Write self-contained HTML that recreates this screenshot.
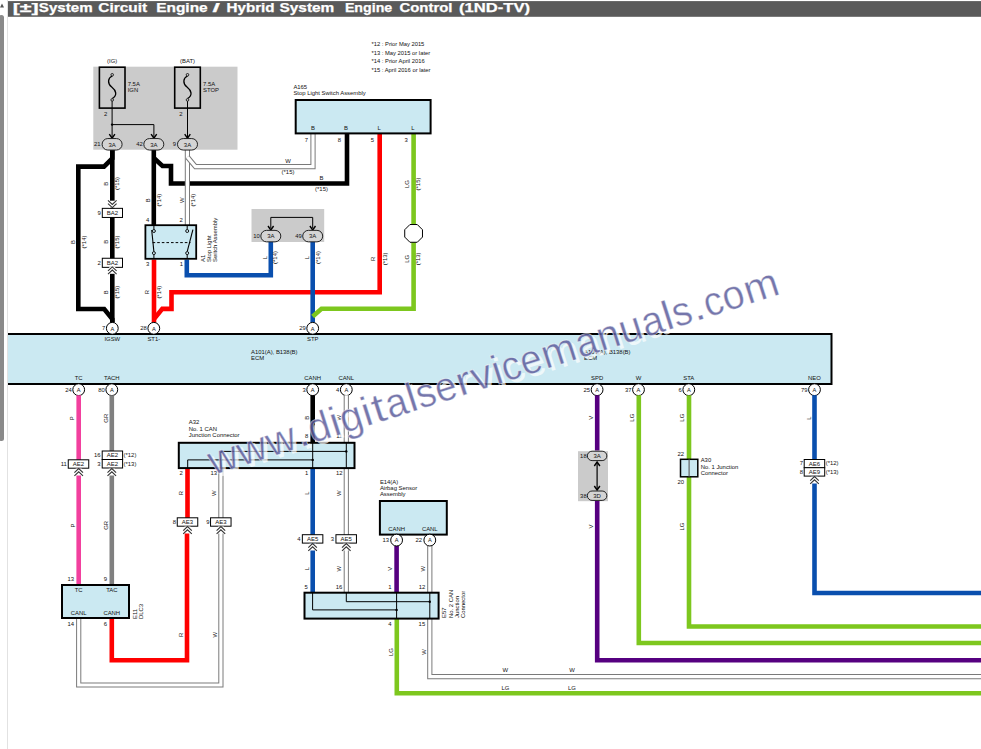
<!DOCTYPE html><html><head><meta charset="utf-8"><style>html,body{margin:0;padding:0;background:#fff;overflow:hidden}svg{display:block;font-family:"Liberation Sans",sans-serif}</style></head><body>
<svg width="981" height="749" viewBox="0 0 981 749">
<rect width="981" height="749" fill="#fff"/>
<rect x="7" y="0" width="1" height="749" fill="#e2e2e2"/>
<rect x="-1" y="15" width="5" height="426" rx="2.5" fill="#8a8a8a"/>
<polygon points="0,7.5 2,3.5 4,7.5" fill="#555"/>
<rect x="8" y="1.1" width="973" height="15.7" fill="#5a5a5a"/>
<g font-size="12.6" font-weight="bold" fill="#fff" stroke="#fff" stroke-width="0.25">
<text x="12.7" y="12.3" textLength="25.999999999999996" lengthAdjust="spacingAndGlyphs">[±]</text>
<text x="38.800000000000004" y="12.3" textLength="53.8" lengthAdjust="spacingAndGlyphs">System</text>
<text x="98.3" y="12.3" textLength="48.900000000000006" lengthAdjust="spacingAndGlyphs">Circuit</text>
<text x="156.2" y="12.3" textLength="51.500000000000014" lengthAdjust="spacingAndGlyphs">Engine</text>
<text x="212.6" y="12.3" textLength="7.3" lengthAdjust="spacingAndGlyphs">/</text>
<text x="226.5" y="12.3" textLength="48.09999999999998" lengthAdjust="spacingAndGlyphs">Hybrid</text>
<text x="279.5" y="12.3" textLength="54.8" lengthAdjust="spacingAndGlyphs">System</text>
<text x="344.90000000000003" y="12.3" textLength="47.3" lengthAdjust="spacingAndGlyphs">Engine</text>
<text x="399.5" y="12.3" textLength="53.00000000000004" lengthAdjust="spacingAndGlyphs">Control</text>
<text x="459.1" y="12.3" textLength="71.00000000000004" lengthAdjust="spacingAndGlyphs">(1ND-TV)</text>
</g>
<rect x="93.3" y="66.7" width="144.2" height="83" fill="#cbcbcb"/>
<rect x="251.5" y="209" width="72.7" height="33" fill="#cbcbcb"/>
<rect x="578" y="451.2" width="30" height="50" fill="#cbcbcb"/>
<text x="371.5" y="44.0" font-size="5.8" text-anchor="start" dominant-baseline="central" fill="#111" font-weight="normal">*12 : Prior May 2015</text>
<text x="371.5" y="52.7" font-size="5.8" text-anchor="start" dominant-baseline="central" fill="#111" font-weight="normal">*13 : May 2015 or later</text>
<text x="371.5" y="61.4" font-size="5.8" text-anchor="start" dominant-baseline="central" fill="#111" font-weight="normal">*14 : Prior April 2016</text>
<text x="371.5" y="70.1" font-size="5.8" text-anchor="start" dominant-baseline="central" fill="#111" font-weight="normal">*15 : April 2016 or later</text>
<rect x="99.4" y="67.2" width="25.6" height="40.9" fill="#cbcbcb" stroke="#000" stroke-width="1.6"/>
<path d="M112.2,76 C107.7,78 107.2,83.5 111.7,87 S117.7,95.5 112.2,98.6" fill="none" stroke="#000" stroke-width="1.3"/>
<circle cx="112.2" cy="74.8" r="1.3" fill="#cbcbcb" stroke="#000" stroke-width="0.8"/>
<circle cx="112.2" cy="99.9" r="1.3" fill="#cbcbcb" stroke="#000" stroke-width="0.8"/>
<text x="112.2" y="61.1" font-size="5.9" text-anchor="middle" dominant-baseline="central" fill="#111" font-weight="normal">(IG)</text>
<text x="127.7" y="84.2" font-size="5.9" text-anchor="start" dominant-baseline="central" fill="#111" font-weight="normal">7.5A</text>
<text x="127.7" y="90.4" font-size="5.9" text-anchor="start" dominant-baseline="central" fill="#111" font-weight="normal">IGN</text>
<text x="105.7" y="113.8" font-size="5.9" text-anchor="middle" dominant-baseline="central" fill="#111" font-weight="normal">2</text>
<rect x="174.7" y="67.2" width="25.6" height="40.9" fill="#cbcbcb" stroke="#000" stroke-width="1.6"/>
<path d="M187.5,76 C183.0,78 182.5,83.5 187.0,87 S193.0,95.5 187.5,98.6" fill="none" stroke="#000" stroke-width="1.3"/>
<circle cx="187.5" cy="74.8" r="1.3" fill="#cbcbcb" stroke="#000" stroke-width="0.8"/>
<circle cx="187.5" cy="99.9" r="1.3" fill="#cbcbcb" stroke="#000" stroke-width="0.8"/>
<text x="187.5" y="61.1" font-size="5.9" text-anchor="middle" dominant-baseline="central" fill="#111" font-weight="normal">(BAT)</text>
<text x="203.0" y="84.2" font-size="5.9" text-anchor="start" dominant-baseline="central" fill="#111" font-weight="normal">7.5A</text>
<text x="203.0" y="90.4" font-size="5.9" text-anchor="start" dominant-baseline="central" fill="#111" font-weight="normal">STOP</text>
<text x="181.0" y="113.8" font-size="5.9" text-anchor="middle" dominant-baseline="central" fill="#111" font-weight="normal">2</text>
<polyline points="112.1,101.2 112.1,137.5" fill="none" stroke="#000" stroke-width="1"/>
<polyline points="112.1,124.6 153.9,124.6 153.9,137.5" fill="none" stroke="#000" stroke-width="1"/>
<circle cx="112.1" cy="124.6" r="1.2" fill="#000"/>
<polyline points="109.3,134.2 112.1,138.2 114.89999999999999,134.2" fill="none" stroke="#000" stroke-width="1.4"/>
<polyline points="151.1,134.2 153.9,138.2 156.70000000000002,134.2" fill="none" stroke="#000" stroke-width="1.4"/>
<polyline points="187.5,101.2 187.5,137.5" fill="none" stroke="#000" stroke-width="1"/>
<polyline points="184.7,134.2 187.5,138.2 190.3,134.2" fill="none" stroke="#000" stroke-width="1.4"/>
<polyline points="112.3,150 112.3,158.5 104,166.6 78.3,166.6 78.3,309 104.2,309 112.3,319 112.3,322.5" fill="none" stroke="#000" stroke-width="4.6" stroke-linejoin="miter" stroke-linecap="butt"/>
<polyline points="153.8,150 153.8,225" fill="none" stroke="#000" stroke-width="4.6" stroke-linejoin="miter" stroke-linecap="butt"/>
<polyline points="153.8,158 162.5,166 171,166 171,183.5 347,183.5 347,133.5" fill="none" stroke="#000" stroke-width="4.6" stroke-linejoin="miter" stroke-linecap="butt"/>
<polyline points="187.4,150 187.4,225" fill="none" stroke="#7a7a7a" stroke-width="5.2" stroke-linejoin="miter"/>
<polyline points="187.4,150 187.4,225" fill="none" stroke="#fff" stroke-width="3.2" stroke-linejoin="miter"/>
<polyline points="187.4,157 195.5,166.7 313,166.7 313,133.5" fill="none" stroke="#7a7a7a" stroke-width="5.2" stroke-linejoin="miter"/>
<polyline points="187.4,157 195.5,166.7 313,166.7 313,133.5" fill="none" stroke="#fff" stroke-width="3.2" stroke-linejoin="miter"/>
<polyline points="154,259.5 154,322.5" fill="none" stroke="#ff0000" stroke-width="4.6" stroke-linejoin="miter" stroke-linecap="butt"/>
<polyline points="154,319 162.3,308.9 171.5,308.9 171.5,292.3 379.7,292.3 379.7,133.5" fill="none" stroke="#ff0000" stroke-width="4.6" stroke-linejoin="miter" stroke-linecap="butt"/>
<polyline points="186.8,259.5 186.8,275.3 270.8,275.3 270.8,241.5" fill="none" stroke="#0a4fae" stroke-width="4.6" stroke-linejoin="miter" stroke-linecap="butt"/>
<polyline points="312.7,241.5 312.7,322.5" fill="none" stroke="#0a4fae" stroke-width="4.6" stroke-linejoin="miter" stroke-linecap="butt"/>
<polyline points="413.6,133.5 413.6,308.8 321.5,308.8 312.7,316.5" fill="none" stroke="#7dc71e" stroke-width="4.6" stroke-linejoin="miter" stroke-linecap="butt"/>
<polyline points="112.3,150 112.3,322.5" fill="none" stroke="#000" stroke-width="4.6" stroke-linejoin="miter" stroke-linecap="butt"/>
<rect x="102.30000000000001" y="208.35" width="20.2" height="9.1" fill="#fff" stroke="#000" stroke-width="1"/>
<text x="112.4" y="213.1" font-size="6.0" text-anchor="middle" dominant-baseline="central" fill="#111" font-weight="normal">BA2</text>
<rect x="109.3" y="200.7" width="6" height="7" fill="#fff"/>
<polyline points="108.0,200.4 112.3,204.4 116.6,200.4" fill="none" stroke="#333" stroke-width="1.1"/>
<polyline points="108.0,203.6 112.3,207.6 116.6,203.6" fill="none" stroke="#333" stroke-width="1.1"/>
<rect x="102.30000000000001" y="258.25" width="20.2" height="9.1" fill="#fff" stroke="#000" stroke-width="1"/>
<text x="112.4" y="263.0" font-size="6.0" text-anchor="middle" dominant-baseline="central" fill="#111" font-weight="normal">BA2</text>
<rect x="109.3" y="266.8" width="6" height="7" fill="#fff"/>
<polyline points="108.0,270.9 112.3,266.9 116.6,270.9" fill="none" stroke="#333" stroke-width="1.1"/>
<polyline points="108.0,274.1 112.3,270.1 116.6,274.1" fill="none" stroke="#333" stroke-width="1.1"/>
<text x="100.8" y="212.9" font-size="5.9" text-anchor="end" dominant-baseline="central" fill="#111" font-weight="normal">9</text>
<text x="100.8" y="262.8" font-size="5.9" text-anchor="end" dominant-baseline="central" fill="#111" font-weight="normal">2</text>
<polygon points="422.4692435121084,237.07376095070487 417.2737609507049,242.26924351210835 409.92623904929513,242.26924351210835 404.73075648789165,237.07376095070487 404.73075648789165,229.72623904929515 409.9262390492952,224.53075648789167 417.2737609507049,224.53075648789167 422.4692435121084,229.72623904929515" fill="#fff" stroke="#000" stroke-width="1"/>
<rect x="145.4" y="225.2" width="50.79999999999998" height="33.60000000000002" fill="#cbe9f2" stroke="#000" stroke-width="1.8"/>
<polyline points="153.9,225.2 153.9,229.5" fill="none" stroke="#000" stroke-width="1"/>
<polyline points="153.9,254.6 153.9,258.8" fill="none" stroke="#000" stroke-width="1"/>
<polyline points="187.2,225.2 187.2,229.5" fill="none" stroke="#000" stroke-width="1"/>
<polyline points="187.2,254.6 187.2,258.8" fill="none" stroke="#000" stroke-width="1"/>
<polyline points="151.7,230 153.9,251.6" fill="none" stroke="#000" stroke-width="1.1"/>
<polyline points="192.9,229.7 187.2,251.6" fill="none" stroke="#000" stroke-width="1.1"/>
<circle cx="153.9" cy="231" r="1.5" fill="#cbe9f2" stroke="#000" stroke-width="0.9"/>
<circle cx="153.9" cy="253.1" r="1.5" fill="#cbe9f2" stroke="#000" stroke-width="0.9"/>
<circle cx="187.2" cy="231" r="1.5" fill="#cbe9f2" stroke="#000" stroke-width="0.9"/>
<circle cx="187.2" cy="253.1" r="1.5" fill="#cbe9f2" stroke="#000" stroke-width="0.9"/>
<line x1="152.6" y1="242.6" x2="190.5" y2="242.6" stroke="#000" stroke-width="1" stroke-dasharray="2.6,2"/>
<text x="147.6" y="220.2" font-size="5.9" text-anchor="middle" dominant-baseline="central" fill="#111" font-weight="normal">4</text>
<text x="181.2" y="220.2" font-size="5.9" text-anchor="middle" dominant-baseline="central" fill="#111" font-weight="normal">2</text>
<text x="147.6" y="264" font-size="5.9" text-anchor="middle" dominant-baseline="central" fill="#111" font-weight="normal">3</text>
<text x="181.4" y="264" font-size="5.9" text-anchor="middle" dominant-baseline="central" fill="#111" font-weight="normal">1</text>
<text x="202.8" y="262" font-size="5.9" text-anchor="start" dominant-baseline="central" fill="#111" font-weight="normal" transform="rotate(-90 202.8 262)">A1</text>
<text x="208.9" y="262" font-size="5.9" text-anchor="start" dominant-baseline="central" fill="#111" font-weight="normal" transform="rotate(-90 208.9 262)">Stop Light</text>
<text x="215" y="262" font-size="5.9" text-anchor="start" dominant-baseline="central" fill="#111" font-weight="normal" transform="rotate(-90 215 262)">Switch Assembly</text>
<rect x="102.1" y="138.55" width="20" height="11.5" rx="5.75" ry="5.75" fill="#d4d4d4" stroke="#222" stroke-width="1"/>
<text x="112.1" y="144.5" font-size="6.0" text-anchor="middle" dominant-baseline="central" fill="#111" font-weight="normal">3A</text>
<rect x="143.8" y="138.55" width="20" height="11.5" rx="5.75" ry="5.75" fill="#d4d4d4" stroke="#222" stroke-width="1"/>
<text x="153.8" y="144.5" font-size="6.0" text-anchor="middle" dominant-baseline="central" fill="#111" font-weight="normal">3A</text>
<rect x="177.5" y="138.55" width="20" height="11.5" rx="5.75" ry="5.75" fill="#d4d4d4" stroke="#222" stroke-width="1"/>
<text x="187.5" y="144.5" font-size="6.0" text-anchor="middle" dominant-baseline="central" fill="#111" font-weight="normal">3A</text>
<text x="97.3" y="144.3" font-size="5.9" text-anchor="middle" dominant-baseline="central" fill="#111" font-weight="normal">21</text>
<text x="139.5" y="144.3" font-size="5.9" text-anchor="middle" dominant-baseline="central" fill="#111" font-weight="normal">42</text>
<text x="174.5" y="144.3" font-size="5.9" text-anchor="middle" dominant-baseline="central" fill="#111" font-weight="normal">9</text>
<polyline points="270.8,228 270.8,217.4 312.7,217.4 312.7,228" fill="none" stroke="#000" stroke-width="1"/>
<polyline points="268.0,226 270.8,230 273.6,226" fill="none" stroke="#000" stroke-width="1.4"/>
<polyline points="309.9,226 312.7,230 315.5,226" fill="none" stroke="#000" stroke-width="1.4"/>
<rect x="260.8" y="230.35" width="20" height="11.5" rx="5.75" ry="5.75" fill="#d4d4d4" stroke="#222" stroke-width="1"/>
<text x="270.8" y="236.29999999999998" font-size="6.0" text-anchor="middle" dominant-baseline="central" fill="#111" font-weight="normal">3A</text>
<rect x="302.7" y="230.35" width="20" height="11.5" rx="5.75" ry="5.75" fill="#d4d4d4" stroke="#222" stroke-width="1"/>
<text x="312.7" y="236.29999999999998" font-size="6.0" text-anchor="middle" dominant-baseline="central" fill="#111" font-weight="normal">3A</text>
<text x="256.5" y="236.1" font-size="5.9" text-anchor="middle" dominant-baseline="central" fill="#111" font-weight="normal">10</text>
<text x="298.5" y="236.1" font-size="5.9" text-anchor="middle" dominant-baseline="central" fill="#111" font-weight="normal">49</text>
<text x="293.4" y="87" font-size="5.9" text-anchor="start" dominant-baseline="central" fill="#111" font-weight="normal">A165</text>
<text x="293.4" y="93.3" font-size="5.9" text-anchor="start" dominant-baseline="central" fill="#111" font-weight="normal">Stop Light Switch Assembly</text>
<rect x="295.7" y="100" width="134.90000000000003" height="33.400000000000006" fill="#cbe9f2" stroke="#000" stroke-width="2"/>
<text x="313" y="128.3" font-size="5.9" text-anchor="middle" dominant-baseline="central" fill="#111" font-weight="normal">B</text>
<text x="306.3" y="139.5" font-size="5.9" text-anchor="middle" dominant-baseline="central" fill="#111" font-weight="normal">7</text>
<text x="346" y="128.3" font-size="5.9" text-anchor="middle" dominant-baseline="central" fill="#111" font-weight="normal">B</text>
<text x="339.3" y="139.5" font-size="5.9" text-anchor="middle" dominant-baseline="central" fill="#111" font-weight="normal">8</text>
<text x="379.2" y="128.3" font-size="5.9" text-anchor="middle" dominant-baseline="central" fill="#111" font-weight="normal">L</text>
<text x="372.5" y="139.5" font-size="5.9" text-anchor="middle" dominant-baseline="central" fill="#111" font-weight="normal">5</text>
<text x="412.9" y="128.3" font-size="5.9" text-anchor="middle" dominant-baseline="central" fill="#111" font-weight="normal">L</text>
<text x="406.2" y="139.5" font-size="5.9" text-anchor="middle" dominant-baseline="central" fill="#111" font-weight="normal">3</text>
<text x="288" y="160.8" font-size="5.9" text-anchor="middle" dominant-baseline="central" fill="#111" font-weight="normal">W</text>
<text x="288" y="172" font-size="5.9" text-anchor="middle" dominant-baseline="central" fill="#111" font-weight="normal">(*15)</text>
<text x="321.5" y="178.2" font-size="5.9" text-anchor="middle" dominant-baseline="central" fill="#111" font-weight="normal">B</text>
<text x="321.5" y="189.2" font-size="5.9" text-anchor="middle" dominant-baseline="central" fill="#111" font-weight="normal">(*15)</text>
<text x="105.8" y="183.8" font-size="5.9" text-anchor="middle" dominant-baseline="central" fill="#111" font-weight="normal" transform="rotate(-90 105.8 183.8)">B</text>
<text x="148" y="200.2" font-size="5.9" text-anchor="middle" dominant-baseline="central" fill="#111" font-weight="normal" transform="rotate(-90 148 200.2)">B</text>
<text x="182.2" y="200.2" font-size="5.9" text-anchor="middle" dominant-baseline="central" fill="#111" font-weight="normal" transform="rotate(-90 182.2 200.2)">W</text>
<text x="73" y="242" font-size="5.9" text-anchor="middle" dominant-baseline="central" fill="#111" font-weight="normal" transform="rotate(-90 73 242)">B</text>
<text x="105.8" y="241.8" font-size="5.9" text-anchor="middle" dominant-baseline="central" fill="#111" font-weight="normal" transform="rotate(-90 105.8 241.8)">B</text>
<text x="105.8" y="292.2" font-size="5.9" text-anchor="middle" dominant-baseline="central" fill="#111" font-weight="normal" transform="rotate(-90 105.8 292.2)">B</text>
<text x="147.4" y="292.2" font-size="5.9" text-anchor="middle" dominant-baseline="central" fill="#111" font-weight="normal" transform="rotate(-90 147.4 292.2)">R</text>
<text x="265" y="257.5" font-size="5.9" text-anchor="middle" dominant-baseline="central" fill="#111" font-weight="normal" transform="rotate(-90 265 257.5)">L</text>
<text x="306.8" y="257.5" font-size="5.9" text-anchor="middle" dominant-baseline="central" fill="#111" font-weight="normal" transform="rotate(-90 306.8 257.5)">L</text>
<text x="373.5" y="258.8" font-size="5.9" text-anchor="middle" dominant-baseline="central" fill="#111" font-weight="normal" transform="rotate(-90 373.5 258.8)">R</text>
<text x="407" y="184" font-size="5.9" text-anchor="middle" dominant-baseline="central" fill="#111" font-weight="normal" transform="rotate(-90 407 184)">LG</text>
<text x="407" y="258.8" font-size="5.9" text-anchor="middle" dominant-baseline="central" fill="#111" font-weight="normal" transform="rotate(-90 407 258.8)">LG</text>
<text x="117.2" y="183.5" font-size="5.9" text-anchor="middle" dominant-baseline="central" fill="#111" font-weight="normal" transform="rotate(-90 117.2 183.5)">(*15)</text>
<text x="159.2" y="200.2" font-size="5.9" text-anchor="middle" dominant-baseline="central" fill="#111" font-weight="normal" transform="rotate(-90 159.2 200.2)">(*14)</text>
<text x="192.9" y="200.2" font-size="5.9" text-anchor="middle" dominant-baseline="central" fill="#111" font-weight="normal" transform="rotate(-90 192.9 200.2)">(*14)</text>
<text x="84" y="242" font-size="5.9" text-anchor="middle" dominant-baseline="central" fill="#111" font-weight="normal" transform="rotate(-90 84 242)">(*14)</text>
<text x="117.2" y="242" font-size="5.9" text-anchor="middle" dominant-baseline="central" fill="#111" font-weight="normal" transform="rotate(-90 117.2 242)">(*15)</text>
<text x="117.3" y="292.2" font-size="5.9" text-anchor="middle" dominant-baseline="central" fill="#111" font-weight="normal" transform="rotate(-90 117.3 292.2)">(*15)</text>
<text x="159.3" y="292.2" font-size="5.9" text-anchor="middle" dominant-baseline="central" fill="#111" font-weight="normal" transform="rotate(-90 159.3 292.2)">(*14)</text>
<text x="274.8" y="257.5" font-size="5.9" text-anchor="middle" dominant-baseline="central" fill="#111" font-weight="normal" transform="rotate(-90 274.8 257.5)">(*14)</text>
<text x="317.5" y="257.5" font-size="5.9" text-anchor="middle" dominant-baseline="central" fill="#111" font-weight="normal" transform="rotate(-90 317.5 257.5)">(*14)</text>
<text x="385.5" y="258.8" font-size="5.9" text-anchor="middle" dominant-baseline="central" fill="#111" font-weight="normal" transform="rotate(-90 385.5 258.8)">(*13)</text>
<text x="417.6" y="184" font-size="5.9" text-anchor="middle" dominant-baseline="central" fill="#111" font-weight="normal" transform="rotate(-90 417.6 184)">(*15)</text>
<text x="417.6" y="258.8" font-size="5.9" text-anchor="middle" dominant-baseline="central" fill="#111" font-weight="normal" transform="rotate(-90 417.6 258.8)">(*13)</text>
<rect x="8" y="334" width="823.5" height="50" fill="#cbe9f2"/>
<polyline points="8,334 831.5,334 831.5,384 8,384" fill="none" stroke="#000" stroke-width="2"/>
<text x="251" y="351.5" font-size="5.9" text-anchor="start" dominant-baseline="central" fill="#111" font-weight="normal">A101(A), B138(B)</text>
<text x="251" y="357.8" font-size="5.9" text-anchor="start" dominant-baseline="central" fill="#111" font-weight="normal">ECM</text>
<text x="584" y="351.5" font-size="5.9" text-anchor="start" dominant-baseline="central" fill="#111" font-weight="normal">A101(A), B138(B)</text>
<text x="584" y="357.8" font-size="5.9" text-anchor="start" dominant-baseline="central" fill="#111" font-weight="normal">ECM</text>
<circle cx="112.3" cy="328.3" r="5.9" fill="#fff" stroke="#000" stroke-width="1"/>
<text x="112.3" y="328.5" font-size="5.7" text-anchor="middle" dominant-baseline="central" fill="#111" font-weight="normal">A</text>
<text x="105.3" y="328.3" font-size="5.9" text-anchor="end" dominant-baseline="central" fill="#111" font-weight="normal">7</text>
<text x="112.3" y="338.6" font-size="5.9" text-anchor="middle" dominant-baseline="central" fill="#111" font-weight="normal">IGSW</text>
<circle cx="153.8" cy="328.3" r="5.9" fill="#fff" stroke="#000" stroke-width="1"/>
<text x="153.8" y="328.5" font-size="5.7" text-anchor="middle" dominant-baseline="central" fill="#111" font-weight="normal">A</text>
<text x="146.8" y="328.3" font-size="5.9" text-anchor="end" dominant-baseline="central" fill="#111" font-weight="normal">28</text>
<text x="153.8" y="338.6" font-size="5.9" text-anchor="middle" dominant-baseline="central" fill="#111" font-weight="normal">ST1-</text>
<circle cx="312.7" cy="328.3" r="5.9" fill="#fff" stroke="#000" stroke-width="1"/>
<text x="312.7" y="328.5" font-size="5.7" text-anchor="middle" dominant-baseline="central" fill="#111" font-weight="normal">A</text>
<text x="305.7" y="328.3" font-size="5.9" text-anchor="end" dominant-baseline="central" fill="#111" font-weight="normal">29</text>
<text x="312.7" y="338.6" font-size="5.9" text-anchor="middle" dominant-baseline="central" fill="#111" font-weight="normal">STP</text>
<circle cx="78.7" cy="389.7" r="5.9" fill="#fff" stroke="#000" stroke-width="1"/>
<text x="78.7" y="389.9" font-size="5.7" text-anchor="middle" dominant-baseline="central" fill="#111" font-weight="normal">A</text>
<text x="71.7" y="389.7" font-size="5.9" text-anchor="end" dominant-baseline="central" fill="#111" font-weight="normal">24</text>
<text x="78.7" y="377.9" font-size="5.9" text-anchor="middle" dominant-baseline="central" fill="#111" font-weight="normal">TC</text>
<circle cx="111.8" cy="389.7" r="5.9" fill="#fff" stroke="#000" stroke-width="1"/>
<text x="111.8" y="389.9" font-size="5.7" text-anchor="middle" dominant-baseline="central" fill="#111" font-weight="normal">A</text>
<text x="104.8" y="389.7" font-size="5.9" text-anchor="end" dominant-baseline="central" fill="#111" font-weight="normal">80</text>
<text x="111.8" y="377.9" font-size="5.9" text-anchor="middle" dominant-baseline="central" fill="#111" font-weight="normal">TACH</text>
<circle cx="312.7" cy="389.7" r="5.9" fill="#fff" stroke="#000" stroke-width="1"/>
<text x="312.7" y="389.9" font-size="5.7" text-anchor="middle" dominant-baseline="central" fill="#111" font-weight="normal">A</text>
<text x="305.7" y="389.7" font-size="5.9" text-anchor="end" dominant-baseline="central" fill="#111" font-weight="normal">3</text>
<text x="312.7" y="377.9" font-size="5.9" text-anchor="middle" dominant-baseline="central" fill="#111" font-weight="normal">CANH</text>
<circle cx="346.3" cy="389.7" r="5.9" fill="#fff" stroke="#000" stroke-width="1"/>
<text x="346.3" y="389.9" font-size="5.7" text-anchor="middle" dominant-baseline="central" fill="#111" font-weight="normal">A</text>
<text x="339.3" y="389.7" font-size="5.9" text-anchor="end" dominant-baseline="central" fill="#111" font-weight="normal">4</text>
<text x="346.3" y="377.9" font-size="5.9" text-anchor="middle" dominant-baseline="central" fill="#111" font-weight="normal">CANL</text>
<circle cx="597.1" cy="389.7" r="5.9" fill="#fff" stroke="#000" stroke-width="1"/>
<text x="597.1" y="389.9" font-size="5.7" text-anchor="middle" dominant-baseline="central" fill="#111" font-weight="normal">A</text>
<text x="590.1" y="389.7" font-size="5.9" text-anchor="end" dominant-baseline="central" fill="#111" font-weight="normal">25</text>
<text x="597.1" y="377.9" font-size="5.9" text-anchor="middle" dominant-baseline="central" fill="#111" font-weight="normal">SPD</text>
<circle cx="638.5" cy="389.7" r="5.9" fill="#fff" stroke="#000" stroke-width="1"/>
<text x="638.5" y="389.9" font-size="5.7" text-anchor="middle" dominant-baseline="central" fill="#111" font-weight="normal">A</text>
<text x="631.5" y="389.7" font-size="5.9" text-anchor="end" dominant-baseline="central" fill="#111" font-weight="normal">37</text>
<text x="638.5" y="377.9" font-size="5.9" text-anchor="middle" dominant-baseline="central" fill="#111" font-weight="normal">W</text>
<circle cx="688.8" cy="389.7" r="5.9" fill="#fff" stroke="#000" stroke-width="1"/>
<text x="688.8" y="389.9" font-size="5.7" text-anchor="middle" dominant-baseline="central" fill="#111" font-weight="normal">A</text>
<text x="681.8" y="389.7" font-size="5.9" text-anchor="end" dominant-baseline="central" fill="#111" font-weight="normal">6</text>
<text x="688.8" y="377.9" font-size="5.9" text-anchor="middle" dominant-baseline="central" fill="#111" font-weight="normal">STA</text>
<circle cx="814.5" cy="389.7" r="5.9" fill="#fff" stroke="#000" stroke-width="1"/>
<text x="814.5" y="389.9" font-size="5.7" text-anchor="middle" dominant-baseline="central" fill="#111" font-weight="normal">A</text>
<text x="807.5" y="389.7" font-size="5.9" text-anchor="end" dominant-baseline="central" fill="#111" font-weight="normal">79</text>
<text x="814.5" y="377.9" font-size="5.9" text-anchor="middle" dominant-baseline="central" fill="#111" font-weight="normal">NEO</text>
<polyline points="78.7,395.3 78.7,585" fill="none" stroke="#f2409e" stroke-width="4.6" stroke-linejoin="miter" stroke-linecap="butt"/>
<rect x="68.25" y="459.8" width="20.5" height="8.4" fill="#fff" stroke="#000" stroke-width="1"/>
<text x="78.5" y="464.2" font-size="6.0" text-anchor="middle" dominant-baseline="central" fill="#111" font-weight="normal">AE2</text>
<rect x="75.7" y="468.5" width="6" height="7" fill="#fff"/>
<polyline points="74.4,472.59999999999997 78.7,468.59999999999997 83.0,472.59999999999997" fill="none" stroke="#333" stroke-width="1.1"/>
<polyline points="74.4,475.8 78.7,471.8 83.0,475.8" fill="none" stroke="#333" stroke-width="1.1"/>
<text x="66.8" y="463.9" font-size="5.9" text-anchor="end" dominant-baseline="central" fill="#111" font-weight="normal">11</text>
<polyline points="111.8,395.3 111.8,585" fill="none" stroke="#808080" stroke-width="4.6" stroke-linejoin="miter" stroke-linecap="butt"/>
<rect x="102.2" y="451" width="20.4" height="8.5" fill="#fff" stroke="#000" stroke-width="1"/>
<rect x="102.2" y="459.5" width="20.4" height="8.5" fill="#fff" stroke="#000" stroke-width="1"/>
<text x="112.4" y="455.4" font-size="6.0" text-anchor="middle" dominant-baseline="central" fill="#111" font-weight="normal">AE2</text>
<text x="112.4" y="463.9" font-size="6.0" text-anchor="middle" dominant-baseline="central" fill="#111" font-weight="normal">AE2</text>
<rect x="108.8" y="468.5" width="6" height="7" fill="#fff"/>
<polyline points="107.5,472.59999999999997 111.8,468.59999999999997 116.1,472.59999999999997" fill="none" stroke="#333" stroke-width="1.1"/>
<polyline points="107.5,475.8 111.8,471.8 116.1,475.8" fill="none" stroke="#333" stroke-width="1.1"/>
<text x="100.5" y="455.3" font-size="5.9" text-anchor="end" dominant-baseline="central" fill="#111" font-weight="normal">16</text>
<text x="100.5" y="463.8" font-size="5.9" text-anchor="end" dominant-baseline="central" fill="#111" font-weight="normal">3</text>
<text x="123.6" y="455.3" font-size="5.9" text-anchor="start" dominant-baseline="central" fill="#111" font-weight="normal">(*12)</text>
<text x="123.6" y="463.8" font-size="5.9" text-anchor="start" dominant-baseline="central" fill="#111" font-weight="normal">(*13)</text>
<text x="72.2" y="418.2" font-size="5.9" text-anchor="middle" dominant-baseline="central" fill="#111" font-weight="normal" transform="rotate(-90 72.2 418.2)">P</text>
<text x="105.6" y="418.2" font-size="5.9" text-anchor="middle" dominant-baseline="central" fill="#111" font-weight="normal" transform="rotate(-90 105.6 418.2)">GR</text>
<text x="72.6" y="525.4" font-size="5.9" text-anchor="middle" dominant-baseline="central" fill="#111" font-weight="normal" transform="rotate(-90 72.6 525.4)">P</text>
<text x="106.2" y="525.4" font-size="5.9" text-anchor="middle" dominant-baseline="central" fill="#111" font-weight="normal" transform="rotate(-90 106.2 525.4)">GR</text>
<polyline points="111.8,618 111.8,660.2 187,660.2 187,530" fill="none" stroke="#ff0000" stroke-width="4.6" stroke-linejoin="miter" stroke-linecap="butt"/>
<polyline points="78.7,618 78.7,685 220.9,685 220.9,530" fill="none" stroke="#7a7a7a" stroke-width="5.2" stroke-linejoin="miter"/>
<polyline points="78.7,618 78.7,685 220.9,685 220.9,530" fill="none" stroke="#fff" stroke-width="3.2" stroke-linejoin="miter"/>
<rect x="62" y="585" width="67" height="33" fill="#cbe9f2" stroke="#000" stroke-width="2"/>
<text x="78.7" y="590.3" font-size="5.9" text-anchor="middle" dominant-baseline="central" fill="#111" font-weight="normal">TC</text>
<text x="111.8" y="590.3" font-size="5.9" text-anchor="middle" dominant-baseline="central" fill="#111" font-weight="normal">TAC</text>
<text x="78.7" y="612.7" font-size="5.9" text-anchor="middle" dominant-baseline="central" fill="#111" font-weight="normal">CANL</text>
<text x="111.8" y="612.7" font-size="5.9" text-anchor="middle" dominant-baseline="central" fill="#111" font-weight="normal">CANH</text>
<text x="70.7" y="578.8" font-size="5.9" text-anchor="middle" dominant-baseline="central" fill="#111" font-weight="normal">13</text>
<text x="105.4" y="578.8" font-size="5.9" text-anchor="middle" dominant-baseline="central" fill="#111" font-weight="normal">9</text>
<text x="70.7" y="624.2" font-size="5.9" text-anchor="middle" dominant-baseline="central" fill="#111" font-weight="normal">14</text>
<text x="105.4" y="624.2" font-size="5.9" text-anchor="middle" dominant-baseline="central" fill="#111" font-weight="normal">6</text>
<text x="134.8" y="619" font-size="5.9" text-anchor="start" dominant-baseline="central" fill="#111" font-weight="normal" transform="rotate(-90 134.8 619)">E11</text>
<text x="141.3" y="619" font-size="5.9" text-anchor="start" dominant-baseline="central" fill="#111" font-weight="normal" transform="rotate(-90 141.3 619)">DLC3</text>
<text x="181.5" y="634.8" font-size="5.9" text-anchor="middle" dominant-baseline="central" fill="#111" font-weight="normal" transform="rotate(-90 181.5 634.8)">R</text>
<text x="214.9" y="634.8" font-size="5.9" text-anchor="middle" dominant-baseline="central" fill="#111" font-weight="normal" transform="rotate(-90 214.9 634.8)">W</text>
<polyline points="187.5,468 187.5,518" fill="none" stroke="#ff0000" stroke-width="4.6" stroke-linejoin="miter" stroke-linecap="butt"/>
<polyline points="220.9,468 220.9,518" fill="none" stroke="#7a7a7a" stroke-width="5.2" stroke-linejoin="miter"/>
<polyline points="220.9,468 220.9,518" fill="none" stroke="#fff" stroke-width="3.2" stroke-linejoin="miter"/>
<rect x="177.25" y="517.8" width="20.5" height="8.4" fill="#fff" stroke="#000" stroke-width="1"/>
<text x="187.5" y="522.2" font-size="6.0" text-anchor="middle" dominant-baseline="central" fill="#111" font-weight="normal">AE3</text>
<rect x="184.5" y="526.5" width="6" height="7" fill="#fff"/>
<polyline points="183.2,530.6 187.5,526.6 191.8,530.6" fill="none" stroke="#333" stroke-width="1.1"/>
<polyline points="183.2,533.8000000000001 187.5,529.8000000000001 191.8,533.8000000000001" fill="none" stroke="#333" stroke-width="1.1"/>
<text x="176" y="522" font-size="5.9" text-anchor="end" dominant-baseline="central" fill="#111" font-weight="normal">8</text>
<rect x="210.55" y="517.8" width="20.5" height="8.4" fill="#fff" stroke="#000" stroke-width="1"/>
<text x="220.8" y="522.2" font-size="6.0" text-anchor="middle" dominant-baseline="central" fill="#111" font-weight="normal">AE3</text>
<rect x="217.9" y="526.5" width="6" height="7" fill="#fff"/>
<polyline points="216.6,530.6 220.9,526.6 225.20000000000002,530.6" fill="none" stroke="#333" stroke-width="1.1"/>
<polyline points="216.6,533.8000000000001 220.9,529.8000000000001 225.20000000000002,533.8000000000001" fill="none" stroke="#333" stroke-width="1.1"/>
<text x="209.5" y="522" font-size="5.9" text-anchor="end" dominant-baseline="central" fill="#111" font-weight="normal">9</text>
<text x="181.2" y="473.4" font-size="5.9" text-anchor="middle" dominant-baseline="central" fill="#111" font-weight="normal">2</text>
<text x="213.8" y="473.4" font-size="5.9" text-anchor="middle" dominant-baseline="central" fill="#111" font-weight="normal">13</text>
<text x="181.2" y="493.2" font-size="5.9" text-anchor="middle" dominant-baseline="central" fill="#111" font-weight="normal" transform="rotate(-90 181.2 493.2)">R</text>
<text x="214.5" y="493.2" font-size="5.9" text-anchor="middle" dominant-baseline="central" fill="#111" font-weight="normal" transform="rotate(-90 214.5 493.2)">W</text>
<polyline points="312.7,395.3 312.7,443" fill="none" stroke="#000" stroke-width="4.6" stroke-linejoin="miter" stroke-linecap="butt"/>
<polyline points="346.3,395.3 346.3,592.7" fill="none" stroke="#7a7a7a" stroke-width="5.2" stroke-linejoin="miter"/>
<polyline points="346.3,395.3 346.3,592.7" fill="none" stroke="#fff" stroke-width="3.2" stroke-linejoin="miter"/>
<polyline points="312.7,468 312.7,535" fill="none" stroke="#0a4fae" stroke-width="4.6" stroke-linejoin="miter" stroke-linecap="butt"/>
<polyline points="312.7,543 312.7,592.7" fill="none" stroke="#0a4fae" stroke-width="4.6" stroke-linejoin="miter" stroke-linecap="butt"/>
<rect x="178.8" y="442.8" width="175.7" height="25.30000000000001" fill="#cbe9f2" stroke="#000" stroke-width="2"/>
<polyline points="187.7,468 187.7,459.9 312.7,459.9" fill="none" stroke="#000" stroke-width="1"/>
<polyline points="221,468 221,451.4 346.3,451.4" fill="none" stroke="#000" stroke-width="1"/>
<polyline points="312.7,443 312.7,468" fill="none" stroke="#000" stroke-width="1"/>
<polyline points="346.3,443 346.3,468" fill="none" stroke="#000" stroke-width="1"/>
<circle cx="312.7" cy="459.9" r="1.2" fill="#000"/><circle cx="346.3" cy="451.4" r="1.2" fill="#000"/>
<text x="188.8" y="421.9" font-size="5.9" text-anchor="start" dominant-baseline="central" fill="#111" font-weight="normal">A32</text>
<text x="188.8" y="428.8" font-size="5.9" text-anchor="start" dominant-baseline="central" fill="#111" font-weight="normal">No. 1 CAN</text>
<text x="188.8" y="435.2" font-size="5.9" text-anchor="start" dominant-baseline="central" fill="#111" font-weight="normal">Junction Connector</text>
<text x="306.6" y="417.7" font-size="5.9" text-anchor="middle" dominant-baseline="central" fill="#111" font-weight="normal" transform="rotate(-90 306.6 417.7)">B</text>
<text x="339.2" y="417.7" font-size="5.9" text-anchor="middle" dominant-baseline="central" fill="#111" font-weight="normal" transform="rotate(-90 339.2 417.7)">W</text>
<text x="306.6" y="436" font-size="5.9" text-anchor="middle" dominant-baseline="central" fill="#111" font-weight="normal">8</text>
<text x="339.2" y="436" font-size="5.9" text-anchor="middle" dominant-baseline="central" fill="#111" font-weight="normal">11</text>
<text x="306.6" y="473.4" font-size="5.9" text-anchor="middle" dominant-baseline="central" fill="#111" font-weight="normal">1</text>
<text x="339.2" y="473.4" font-size="5.9" text-anchor="middle" dominant-baseline="central" fill="#111" font-weight="normal">12</text>
<text x="306.6" y="493.2" font-size="5.9" text-anchor="middle" dominant-baseline="central" fill="#111" font-weight="normal" transform="rotate(-90 306.6 493.2)">L</text>
<text x="339.2" y="493.2" font-size="5.9" text-anchor="middle" dominant-baseline="central" fill="#111" font-weight="normal" transform="rotate(-90 339.2 493.2)">W</text>
<rect x="302.35" y="534.6999999999999" width="20.5" height="8.4" fill="#fff" stroke="#000" stroke-width="1"/>
<text x="312.6" y="539.1" font-size="6.0" text-anchor="middle" dominant-baseline="central" fill="#111" font-weight="normal">AE5</text>
<rect x="309.6" y="543.5" width="6" height="7" fill="#fff"/>
<polyline points="308.3,547.6 312.6,543.6 316.90000000000003,547.6" fill="none" stroke="#333" stroke-width="1.1"/>
<polyline points="308.3,550.8000000000001 312.6,546.8000000000001 316.90000000000003,550.8000000000001" fill="none" stroke="#333" stroke-width="1.1"/>
<text x="300.5" y="538.9" font-size="5.9" text-anchor="end" dominant-baseline="central" fill="#111" font-weight="normal">4</text>
<rect x="335.95" y="534.6999999999999" width="20.5" height="8.4" fill="#fff" stroke="#000" stroke-width="1"/>
<text x="346.2" y="539.1" font-size="6.0" text-anchor="middle" dominant-baseline="central" fill="#111" font-weight="normal">AE5</text>
<rect x="343.3" y="543.5" width="6" height="7" fill="#fff"/>
<polyline points="342.0,547.6 346.3,543.6 350.6,547.6" fill="none" stroke="#333" stroke-width="1.1"/>
<polyline points="342.0,550.8000000000001 346.3,546.8000000000001 350.6,550.8000000000001" fill="none" stroke="#333" stroke-width="1.1"/>
<text x="334" y="538.9" font-size="5.9" text-anchor="end" dominant-baseline="central" fill="#111" font-weight="normal">3</text>
<text x="307.1" y="568.7" font-size="5.9" text-anchor="middle" dominant-baseline="central" fill="#111" font-weight="normal" transform="rotate(-90 307.1 568.7)">L</text>
<text x="339.1" y="568.7" font-size="5.9" text-anchor="middle" dominant-baseline="central" fill="#111" font-weight="normal" transform="rotate(-90 339.1 568.7)">W</text>
<text x="306.1" y="587" font-size="5.9" text-anchor="middle" dominant-baseline="central" fill="#111" font-weight="normal">5</text>
<text x="339.1" y="587" font-size="5.9" text-anchor="middle" dominant-baseline="central" fill="#111" font-weight="normal">16</text>
<text x="379.9" y="481.6" font-size="5.9" text-anchor="start" dominant-baseline="central" fill="#111" font-weight="normal">E14(A)</text>
<text x="379.9" y="488.2" font-size="5.9" text-anchor="start" dominant-baseline="central" fill="#111" font-weight="normal">Airbag Sensor</text>
<text x="379.9" y="494.4" font-size="5.9" text-anchor="start" dominant-baseline="central" fill="#111" font-weight="normal">Assembly</text>
<rect x="379.9" y="501" width="66.90000000000003" height="33.60000000000002" fill="#cbe9f2" stroke="#000" stroke-width="2"/>
<text x="396.6" y="528.9" font-size="5.9" text-anchor="middle" dominant-baseline="central" fill="#111" font-weight="normal">CANH</text>
<text x="429.8" y="528.9" font-size="5.9" text-anchor="middle" dominant-baseline="central" fill="#111" font-weight="normal">CANL</text>
<polyline points="396.6,546 396.6,592.7" fill="none" stroke="#560080" stroke-width="4.6" stroke-linejoin="miter" stroke-linecap="butt"/>
<polyline points="429.8,546 429.8,592.7" fill="none" stroke="#7a7a7a" stroke-width="5.2" stroke-linejoin="miter"/>
<polyline points="429.8,546 429.8,592.7" fill="none" stroke="#fff" stroke-width="3.2" stroke-linejoin="miter"/>
<circle cx="396.6" cy="540.1" r="5.9" fill="#fff" stroke="#000" stroke-width="1"/>
<text x="396.6" y="540.3000000000001" font-size="5.7" text-anchor="middle" dominant-baseline="central" fill="#111" font-weight="normal">A</text>
<circle cx="429.8" cy="540.1" r="5.9" fill="#fff" stroke="#000" stroke-width="1"/>
<text x="429.8" y="540.3000000000001" font-size="5.7" text-anchor="middle" dominant-baseline="central" fill="#111" font-weight="normal">A</text>
<text x="389" y="540.1" font-size="5.9" text-anchor="end" dominant-baseline="central" fill="#111" font-weight="normal">13</text>
<text x="422" y="540.1" font-size="5.9" text-anchor="end" dominant-baseline="central" fill="#111" font-weight="normal">22</text>
<text x="390" y="568.7" font-size="5.9" text-anchor="middle" dominant-baseline="central" fill="#111" font-weight="normal" transform="rotate(-90 390 568.7)">V</text>
<text x="422.7" y="568.7" font-size="5.9" text-anchor="middle" dominant-baseline="central" fill="#111" font-weight="normal" transform="rotate(-90 422.7 568.7)">W</text>
<text x="390" y="587" font-size="5.9" text-anchor="middle" dominant-baseline="central" fill="#111" font-weight="normal">1</text>
<text x="422.1" y="587" font-size="5.9" text-anchor="middle" dominant-baseline="central" fill="#111" font-weight="normal">12</text>
<polyline points="396.8,618.6 396.8,693.3 981,693.3" fill="none" stroke="#7dc71e" stroke-width="4.6" stroke-linejoin="miter" stroke-linecap="butt"/>
<polyline points="429.8,618.6 429.8,676.6 981,676.6" fill="none" stroke="#7a7a7a" stroke-width="5.2" stroke-linejoin="miter"/>
<polyline points="429.8,618.6 429.8,676.6 981,676.6" fill="none" stroke="#fff" stroke-width="3.2" stroke-linejoin="miter"/>
<rect x="304.5" y="592.7" width="134.10000000000002" height="25.899999999999977" fill="#cbe9f2" stroke="#000" stroke-width="2"/>
<polyline points="312.6,592.7 312.6,609.9 396.6,609.9" fill="none" stroke="#000" stroke-width="1"/>
<polyline points="346.3,592.7 346.3,601.7 429.8,601.7" fill="none" stroke="#000" stroke-width="1"/>
<polyline points="396.6,592.7 396.6,618.6" fill="none" stroke="#000" stroke-width="1"/>
<polyline points="429.8,592.7 429.8,618.6" fill="none" stroke="#000" stroke-width="1"/>
<circle cx="396.6" cy="609.9" r="1.2" fill="#000"/><circle cx="429.8" cy="601.7" r="1.2" fill="#000"/>
<text x="390" y="623.7" font-size="5.9" text-anchor="middle" dominant-baseline="central" fill="#111" font-weight="normal">4</text>
<text x="421.9" y="623.7" font-size="5.9" text-anchor="middle" dominant-baseline="central" fill="#111" font-weight="normal">15</text>
<text x="443.9" y="618" font-size="5.9" text-anchor="start" dominant-baseline="central" fill="#111" font-weight="normal" transform="rotate(-90 443.9 618)">E57</text>
<text x="450.5" y="618" font-size="5.9" text-anchor="start" dominant-baseline="central" fill="#111" font-weight="normal" transform="rotate(-90 450.5 618)">No. 2 CAN</text>
<text x="456.9" y="618" font-size="5.9" text-anchor="start" dominant-baseline="central" fill="#111" font-weight="normal" transform="rotate(-90 456.9 618)">Junction</text>
<text x="463.2" y="618" font-size="5.9" text-anchor="start" dominant-baseline="central" fill="#111" font-weight="normal" transform="rotate(-90 463.2 618)">Connector</text>
<text x="390.7" y="652" font-size="5.9" text-anchor="middle" dominant-baseline="central" fill="#111" font-weight="normal" transform="rotate(-90 390.7 652)">LG</text>
<text x="424.3" y="652" font-size="5.9" text-anchor="middle" dominant-baseline="central" fill="#111" font-weight="normal" transform="rotate(-90 424.3 652)">W</text>
<text x="505.4" y="670.3" font-size="5.9" text-anchor="middle" dominant-baseline="central" fill="#111" font-weight="normal">W</text>
<text x="572" y="670.3" font-size="5.9" text-anchor="middle" dominant-baseline="central" fill="#111" font-weight="normal">W</text>
<text x="505.4" y="687.8" font-size="5.9" text-anchor="middle" dominant-baseline="central" fill="#111" font-weight="normal">LG</text>
<text x="572" y="687.8" font-size="5.9" text-anchor="middle" dominant-baseline="central" fill="#111" font-weight="normal">LG</text>
<polyline points="597.2,395.3 597.2,450.5" fill="none" stroke="#560080" stroke-width="4.6" stroke-linejoin="miter" stroke-linecap="butt"/>
<polyline points="597.2,501 597.2,660.2 981,660.2" fill="none" stroke="#560080" stroke-width="4.6" stroke-linejoin="miter" stroke-linecap="butt"/>
<polyline points="597.1,463 597.1,489" fill="none" stroke="#000" stroke-width="1.2"/>
<polyline points="594.3000000000001,466 597.1,462 599.9,466" fill="none" stroke="#000" stroke-width="1.4"/>
<polyline points="594.3000000000001,486 597.1,490 599.9,486" fill="none" stroke="#000" stroke-width="1.4"/>
<rect x="587.35" y="451.2" width="19.5" height="9.4" rx="4.7" ry="4.7" fill="#d4d4d4" stroke="#222" stroke-width="1"/>
<text x="597.1" y="456.09999999999997" font-size="6.0" text-anchor="middle" dominant-baseline="central" fill="#111" font-weight="normal">3A</text>
<rect x="587.35" y="491.0" width="19.5" height="9.4" rx="4.7" ry="4.7" fill="#d4d4d4" stroke="#222" stroke-width="1"/>
<text x="597.1" y="495.9" font-size="6.0" text-anchor="middle" dominant-baseline="central" fill="#111" font-weight="normal">3D</text>
<text x="583.4" y="455.9" font-size="5.9" text-anchor="middle" dominant-baseline="central" fill="#111" font-weight="normal">18</text>
<text x="583.4" y="495.7" font-size="5.9" text-anchor="middle" dominant-baseline="central" fill="#111" font-weight="normal">38</text>
<text x="590.6" y="417.7" font-size="5.9" text-anchor="middle" dominant-baseline="central" fill="#111" font-weight="normal" transform="rotate(-90 590.6 417.7)">V</text>
<text x="591" y="526.6" font-size="5.9" text-anchor="middle" dominant-baseline="central" fill="#111" font-weight="normal" transform="rotate(-90 591 526.6)">V</text>
<polyline points="638.8,395.3 638.8,643 981,643" fill="none" stroke="#7dc71e" stroke-width="4.6" stroke-linejoin="miter" stroke-linecap="butt"/>
<text x="632.4" y="417.7" font-size="5.9" text-anchor="middle" dominant-baseline="central" fill="#111" font-weight="normal" transform="rotate(-90 632.4 417.7)">LG</text>
<polyline points="689,395.3 689,626.5 981,626.5" fill="none" stroke="#7dc71e" stroke-width="4.6" stroke-linejoin="miter" stroke-linecap="butt"/>
<rect x="680.5" y="459.3" width="17.299999999999955" height="17.5" fill="#cbe9f2" stroke="#000" stroke-width="1.5"/>
<polyline points="689.1,459.3 689.1,476.8" fill="none" stroke="#555" stroke-width="1.1"/>
<text x="682.3" y="417.7" font-size="5.9" text-anchor="middle" dominant-baseline="central" fill="#111" font-weight="normal" transform="rotate(-90 682.3 417.7)">LG</text>
<text x="682.3" y="526.6" font-size="5.9" text-anchor="middle" dominant-baseline="central" fill="#111" font-weight="normal" transform="rotate(-90 682.3 526.6)">LG</text>
<text x="680.7" y="453.7" font-size="5.9" text-anchor="middle" dominant-baseline="central" fill="#111" font-weight="normal">22</text>
<text x="680.7" y="481.8" font-size="5.9" text-anchor="middle" dominant-baseline="central" fill="#111" font-weight="normal">20</text>
<text x="700.7" y="460.1" font-size="5.9" text-anchor="start" dominant-baseline="central" fill="#111" font-weight="normal">A30</text>
<text x="700.7" y="467" font-size="5.9" text-anchor="start" dominant-baseline="central" fill="#111" font-weight="normal">No. 1 Junction</text>
<text x="700.7" y="473.4" font-size="5.9" text-anchor="start" dominant-baseline="central" fill="#111" font-weight="normal">Connector</text>
<polyline points="814.5,395.3 814.5,593 981,593" fill="none" stroke="#0a4fae" stroke-width="4.6" stroke-linejoin="miter" stroke-linecap="butt"/>
<rect x="804.2" y="459.5" width="20.5" height="8.2" fill="#fff" stroke="#000" stroke-width="1"/>
<rect x="804.2" y="467.7" width="20.5" height="8.4" fill="#fff" stroke="#000" stroke-width="1"/>
<text x="814.4" y="463.6" font-size="6.0" text-anchor="middle" dominant-baseline="central" fill="#111" font-weight="normal">AE6</text>
<text x="814.4" y="471.9" font-size="6.0" text-anchor="middle" dominant-baseline="central" fill="#111" font-weight="normal">AE9</text>
<rect x="811.5" y="476.5" width="6" height="7" fill="#fff"/>
<polyline points="810.2,480.59999999999997 814.5,476.59999999999997 818.8,480.59999999999997" fill="none" stroke="#333" stroke-width="1.1"/>
<polyline points="810.2,483.8 814.5,479.8 818.8,483.8" fill="none" stroke="#333" stroke-width="1.1"/>
<text x="801.5" y="463.3" font-size="5.9" text-anchor="middle" dominant-baseline="central" fill="#111" font-weight="normal">7</text>
<text x="801.5" y="471.8" font-size="5.9" text-anchor="middle" dominant-baseline="central" fill="#111" font-weight="normal">8</text>
<text x="825.8" y="463.3" font-size="5.9" text-anchor="start" dominant-baseline="central" fill="#111" font-weight="normal">(*12)</text>
<text x="825.8" y="471.8" font-size="5.9" text-anchor="start" dominant-baseline="central" fill="#111" font-weight="normal">(*13)</text>
<text x="808.8" y="418" font-size="5.9" text-anchor="middle" dominant-baseline="central" fill="#111" font-weight="normal" transform="rotate(-90 808.8 418)">L</text>
<g transform="translate(212.5 475.5) rotate(-17.7)" font-size="41">
<g fill="#fff" fill-opacity="0.7">
<text transform="translate(2.96 3.5) scale(0.995 1)">w</text>
<text transform="translate(33.33 3.5) scale(0.995 1)">w</text>
<text transform="translate(63.71 3.5) scale(0.995 1)">w</text>
<text transform="translate(93.83 3.5) scale(1.150 1)">.</text>
<text transform="translate(107.49 3.5) scale(0.984 1)">d</text>
<text transform="translate(130.43 3.5) scale(1.083 1)">i</text>
<text transform="translate(140.80 3.5) scale(0.984 1)">g</text>
<text transform="translate(163.74 3.5) scale(1.083 1)">i</text>
<text transform="translate(174.53 3.5) scale(1.150 1)">t</text>
<text transform="translate(188.73 3.5) scale(0.948 1)">a</text>
<text transform="translate(210.82 3.5) scale(1.083 1)">l</text>
<text transform="translate(220.88 3.5) scale(0.940 1)">s</text>
<text transform="translate(240.52 3.5) scale(0.941 1)">e</text>
<text transform="translate(262.56 3.5) scale(1.126 1)">r</text>
<text transform="translate(278.51 3.5) scale(1.037 1)">v</text>
<text transform="translate(300.24 3.5) scale(1.083 1)">i</text>
<text transform="translate(310.30 3.5) scale(0.940 1)">c</text>
<text transform="translate(329.94 3.5) scale(0.941 1)">e</text>
<text transform="translate(352.28 3.5) scale(1.026 1)">m</text>
<text transform="translate(388.21 3.5) scale(0.948 1)">a</text>
<text transform="translate(410.51 3.5) scale(1.000 1)">n</text>
<text transform="translate(434.01 3.5) scale(1.000 1)">u</text>
<text transform="translate(457.50 3.5) scale(0.948 1)">a</text>
<text transform="translate(479.60 3.5) scale(1.083 1)">l</text>
<text transform="translate(489.66 3.5) scale(0.940 1)">s</text>
<text transform="translate(509.17 3.5) scale(1.150 1)">.</text>
<text transform="translate(522.52 3.5) scale(0.940 1)">c</text>
<text transform="translate(542.17 3.5) scale(0.959 1)">o</text>
<text transform="translate(564.91 3.5) scale(1.026 1)">m</text>
</g><g fill="#5c5d9c" fill-opacity="0.85" stroke="#fff" stroke-opacity="0.55" stroke-width="0.9">
<text transform="translate(0.46 0) scale(0.995 1)">w</text>
<text transform="translate(30.83 0) scale(0.995 1)">w</text>
<text transform="translate(61.21 0) scale(0.995 1)">w</text>
<text transform="translate(91.33 0) scale(1.150 1)">.</text>
<text transform="translate(104.99 0) scale(0.984 1)">d</text>
<text transform="translate(127.93 0) scale(1.083 1)">i</text>
<text transform="translate(138.30 0) scale(0.984 1)">g</text>
<text transform="translate(161.24 0) scale(1.083 1)">i</text>
<text transform="translate(172.03 0) scale(1.150 1)">t</text>
<text transform="translate(186.23 0) scale(0.948 1)">a</text>
<text transform="translate(208.32 0) scale(1.083 1)">l</text>
<text transform="translate(218.38 0) scale(0.940 1)">s</text>
<text transform="translate(238.02 0) scale(0.941 1)">e</text>
<text transform="translate(260.06 0) scale(1.126 1)">r</text>
<text transform="translate(276.01 0) scale(1.037 1)">v</text>
<text transform="translate(297.74 0) scale(1.083 1)">i</text>
<text transform="translate(307.80 0) scale(0.940 1)">c</text>
<text transform="translate(327.44 0) scale(0.941 1)">e</text>
<text transform="translate(349.78 0) scale(1.026 1)">m</text>
<text transform="translate(385.71 0) scale(0.948 1)">a</text>
<text transform="translate(408.01 0) scale(1.000 1)">n</text>
<text transform="translate(431.51 0) scale(1.000 1)">u</text>
<text transform="translate(455.00 0) scale(0.948 1)">a</text>
<text transform="translate(477.10 0) scale(1.083 1)">l</text>
<text transform="translate(487.16 0) scale(0.940 1)">s</text>
<text transform="translate(506.67 0) scale(1.150 1)">.</text>
<text transform="translate(520.02 0) scale(0.940 1)">c</text>
<text transform="translate(539.67 0) scale(0.959 1)">o</text>
<text transform="translate(562.41 0) scale(1.026 1)">m</text>
</g></g>
</svg></body></html>
